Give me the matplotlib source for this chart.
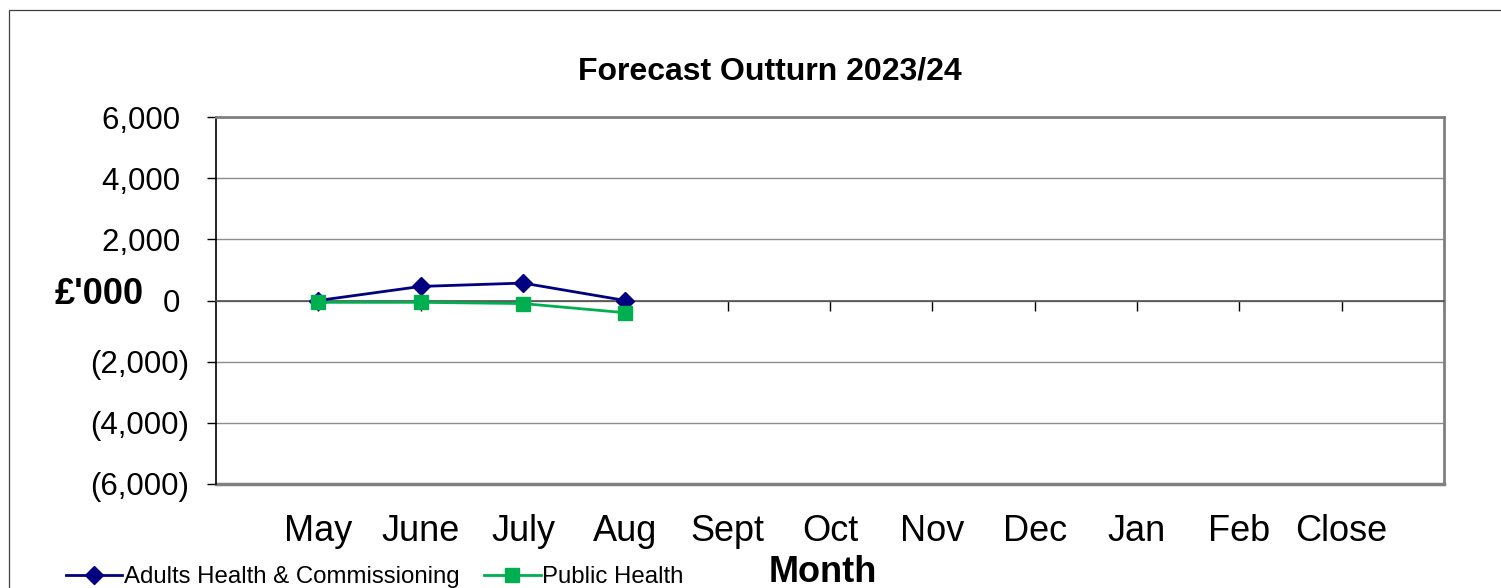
import matplotlib
matplotlib.use("Agg")
import matplotlib.pyplot as plt
from matplotlib.patches import Rectangle
from matplotlib.lines import Line2D

months = ["May", "June", "July", "Aug", "Sept", "Oct", "Nov", "Dec", "Jan", "Feb", "Close"]
adults = [0, 460, 570, 0]
public_health = [-60, -60, -100, -400]
yticks = [6000, 4000, 2000, 0, -2000, -4000, -6000]

def fmt(v):
    return f"({abs(v):,})" if v < 0 else f"{v:,} "

plt.rcParams['font.family'] = ['Liberation Sans', 'DejaVu Sans']

W, H = 1501, 588
fig = plt.figure(figsize=(W / 100, H / 100), dpi=100)

# outer chart border
fig.patches.append(Rectangle((9 / W, 1 - 588 / H - 0.01), 1.2, (588 - 10) / H + 0.01,
                             transform=fig.transFigure, fill=False,
                             edgecolor='#404040', linewidth=0.9))

ax = fig.add_axes([216 / W, 1 - 484 / H, (1444 - 216) / W, (484 - 117) / H])

x = list(range(len(months)))
ax.set_xlim(-1, len(months))
ax.set_ylim(-6000, 6000)

ax.yaxis.grid(True, color='#8c8c8c', linewidth=1.0)
ax.set_axisbelow(True)

ax.plot(x[:len(adults)], adults, color='#000080', marker='D', markersize=9,
        linewidth=2.0, label='Adults Health & Commissioning', zorder=3)
ax.plot(x[:len(public_health)], public_health, color='#00B050', marker='s', markersize=10,
        linewidth=2.0, label='Public Health', zorder=3)

for side in ['top', 'right']:
    ax.spines[side].set_color('#808080')
    ax.spines[side].set_linewidth(2)
ax.spines['left'].set_color('black')
ax.spines['left'].set_linewidth(1.2)
ax.spines['bottom'].set_position(('data', 0))
ax.spines['bottom'].set_color('#505050')
ax.spines['bottom'].set_linewidth(1.2)
ax.axhline(-6000, color='#808080', linewidth=2.5, zorder=2, clip_on=False)

ax.set_yticks(yticks)
ax.set_yticklabels([fmt(v) for v in yticks], fontsize=22.5)
ax.tick_params(axis='y', direction='out', length=6.5, width=1, pad=13)

ax.set_xticks(x + [len(months)])
ax.set_xticklabels(months + [""], fontsize=26)
ax.tick_params(axis='x', direction='out', length=7, width=1, pad=146.5)

fig.text(770 / W, 1 - 72 / H, "Forecast Outturn 2023/24", fontsize=23,
         fontweight='bold', ha='center', va='center')
fig.text(99 / W, 1 - 295 / H, "£'000", fontsize=26, fontweight='bold',
         ha='center', va='center')
fig.text(823 / W, 1 - 573 / H, "Month", fontsize=26, fontweight='bold',
         ha='center', va='center')

handles = [Line2D([], [], color='#000080', marker='D', markersize=9, linewidth=2.0),
           Line2D([], [], color='#00B050', marker='s', markersize=10, linewidth=2.0)]
fig.legend(handles, ['Adults Health & Commissioning', 'Public Health'],
           loc='center left', bbox_to_anchor=(66 / W, 1 - 577 / H), ncol=2,
           frameon=False, fontsize=17.3, handlelength=2.35, handletextpad=0.08,
           columnspacing=1.0, borderpad=0, borderaxespad=0)

fig.savefig("out.png", dpi=100)
